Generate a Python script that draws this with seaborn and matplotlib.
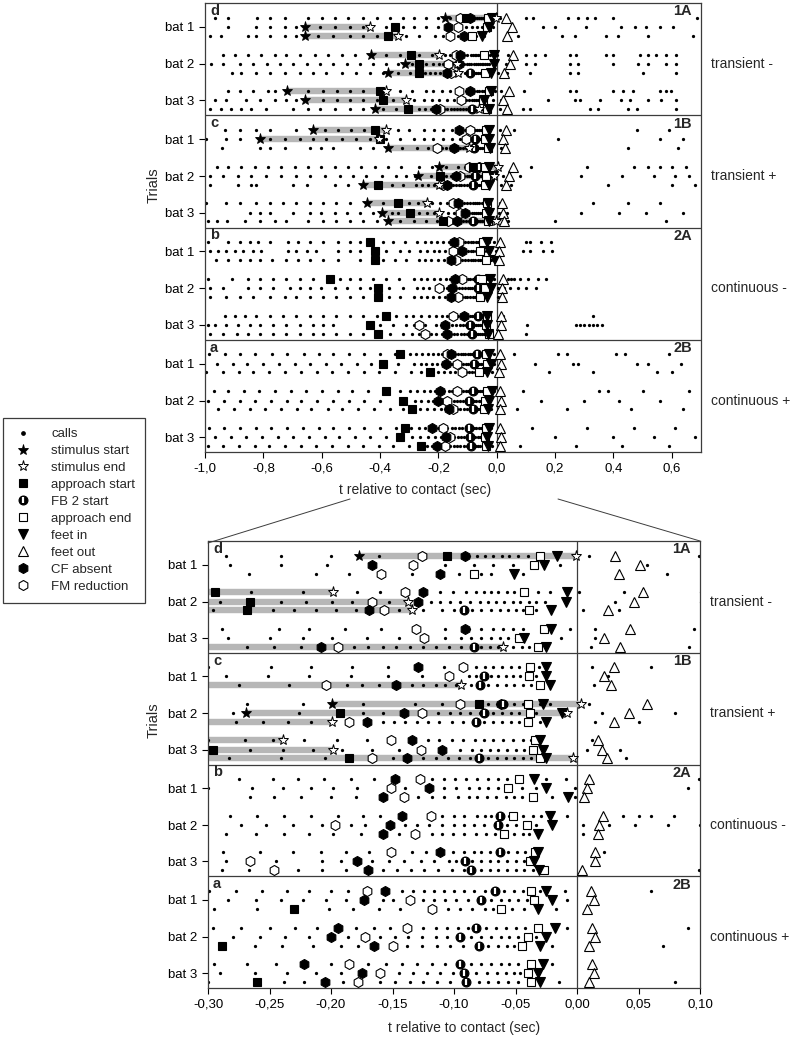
import numpy as np
import pandas as pd
import matplotlib
matplotlib.use('Agg')
import matplotlib.pyplot as plt
from matplotlib.lines import Line2D
from matplotlib.ticker import FuncFormatter, FixedLocator
from matplotlib.transforms import blended_transform_factory
import seaborn as sns

# ---------------- data (times in ms relative to contact) ----------------
GROUP_LETTERS = ['d', 'c', 'b', 'a']
GROUP_CODES = ['1A', '1B', '2A', '2B']
GROUP_NAMES = ['transient -', 'transient +', 'continuous -', 'continuous +']
BAT_LABELS = ['bat 1', 'bat 2', 'bat 3']
TOP_XTICKS = [-1.0, -0.8, -0.6, -0.4, -0.2, 0.0, 0.2, 0.4, 0.6]
BOTTOM_XTICKS = [-0.30, -0.25, -0.20, -0.15, -0.10, -0.05, 0.00, 0.05, 0.10]

# rows: group d,c,b,a ; bat 1..3 ; trial 1..3
STIM_START = [-177, -658, -658, -430, -315, -372, -718, -658, -418,
              -630, -812, -372, -199, -269, -458, -444, -395, -372,
              None, None, None, None, None, None, None, None, None,
              None, None, None, None, None, None, None, None, None]
STIM_END = [-1, -435, -338, -198, -137, -134, -378, -310, -60,
            -380, -405, -94, 3, -8, -199, -239, -198, -3,
            None, None, None, None, None, None, None, None, None,
            None, None, None, None, None, None, None, None, None]
APPROACH_START = [-106, -350, -372, -294, -266, -268, -401, -390, -304,
                  -418, -401, None, -80, -193, -407, -338, -296, -185,
                  -435, -418, -418, -572, -407, -407, -380, -435, -407,
                  -330, -390, -230, -380, -320, -289, -315, -330, -260]
FB2_START = [None, None, None, None, None, -92, None, None, -84,
             None, -76, -79, -60, -76, -82, None, None, -80,
             None, None, None, -63, -64, None, -63, -91, -86,
             -67, -78, None, -82, -95, -80, -95, -92, -90]
APPROACH_END = [-30, -35, -84, -43, None, -39, -27, -47, -32,
                -38, -39, -30, -40, -38, -40, -34, -36, -30,
                -47, -56, -36, -52, -41, -59, -34, -38, -27,
                -37, -35, -62, -32, -40, -45, -37, -40, -37]
FEET_IN = [-16, -27, -51, -8, -9, -21, -21, -43, -25,
           -25, -25, -22, -28, -12, -25, -30, -28, -25,
           -35, -25, -7, -22, -20, -32, -32, -35, -31,
           -25, -20, -32, -18, -25, -30, -28, -32, -30]
FEET_OUT = [31, 51, 34, 54, 46, 25, 43, 22, 35,
            30, 22, 28, 57, 42, 30, 17, 20, 24,
            10, 8, 6, 21, 18, 17, 15, 15, 4,
            11, 14, 8, 12, 15, 10, 12, 14, 10]
CF_ABSENT = [-91, -167, -111, -125, -129, -169, -91, None, -208,
             -129, None, -147, -62, -141, -171, -134, -110, -138,
             -148, -120, -158, -142, -152, -158, -111, -179, -170,
             -156, -173, None, -194, -200, -165, -222, -175, -205]
FM_REDUCTION = [-126, -133, -159, -140, -167, -157, -131, -124, -194,
                -93, -104, -204, -95, -126, -185, -151, -127, -167,
                -128, -151, -141, -119, -197, -132, -151, -266, -246,
                -171, -136, -118, -138, -172, -150, -185, -160, -178]

CALLS = [
    # group d
    [-966, -922, -822, -778, -727, -648, -600, -555, -511, -459, -411, -367, -322, -285, -241, -200, -161,
     -88, -81, -75, -68, -61, -55, -48, -40, 10, 99, 123, 243, 278, 308, 336, 398, 685],
    [-921, -824, -778, -727, -687, -607, -555, -504, -458, -378, -320, -282, -241, -203, -107, -84, -68, -52,
     -14, 57, 159, 199, 307, 427, 473, 513, 559, 604],
    [-984, -944, -852, -824, -778, -727, -687, -612, -561, -504, -458, -412, -310, -267, -212, -185, -134, -96,
     -78, -70, -44, 73, 222, 267, 376, 416, 518, 673],
    [-938, -898, -852, -807, -761, -721, -675, -624, -578, -532, -487, -378, -332, -265, -223, -179, -160, -111,
     -101, -90, -82, -76, -70, -64, -57, -51, -32, -22, 2, 38, 101, 130, 164, 250, 273, 376, 399, 490, 518, 547,
     581, 616],
    [-978, -938, -880, -835, -789, -743, -698, -652, -607, -561, -515, -470, -424, -378, -340, -290, -241, -220,
     -199, -183, -153, -119, -111, -103, -95, -87, -79, -72, -66, -59, -52, -46, -39, -33, -26, 31, 101, 130, 250,
     279, 399, 484, 518, 581, 616],
    [-909, -875, -824, -778, -727, -675, -630, -584, -532, -481, -435, -390, -340, -296, -247, -230, -212, -196,
     -180, -145, -125, -110, -100, -85, -78, -70, -63, -56, -50, -44, -33, 5, 34, 113, 250, 279, 502, 616],
    [-921, -881, -835, -784, -761, -647, -595, -549, -504, -458, -332, -289, -242, -218, -189, -159, -107, -88,
     -78, -68, -60, -52, -44, -6, 15, 95, 250, 273, 399, 433, 467, 558, 581, 598],
    [-967, -927, -858, -812, -761, -721, -687, -595, -549, -504, -458, -412, -355, -284, -250, -223, -199, -171,
     -145, -107, -94, -86, -78, -70, -63, -56, -50, -13, 15, 175, 267, 284, 353, 427, 456, 518, 564, 616],
    [-984, -944, -910, -875, -841, -790, -698, -647, -607, -555, -504, -458, -390, -346, -268, -246, -224, -181,
     -170, -158, -147, -136, -125, -115, -104, -94, -78, -71, -64, -52, -45, -39, 11, 91, 113, 319, 347, 450, 479,
     616],
    # group c
    [-932, -881, -824, -778, -687, -590, -545, -500, -455, -338, -300, -249, -216, -183, -154, -108, -82, -75,
     -68, -61, -54, -47, -31, 12, 60, 480, 590],
    [-995, -927, -881, -778, -727, -675, -630, -584, -532, -481, -435, -378, -332, -285, -251, -218, -184, -154,
     -126, -88, -82, -70, -64, -58, -52, -46, -33, 25, 210, 560, 640],
    [-942, -812, -778, -727, -641, -601, -561, -470, -424, -325, -275, -234, -187, -175, -161, -134, -125, -115,
     -107, -98, -86, -72, -65, -58, -51, -44, -37, 14, 450, 620],
    [-960, -920, -875, -829, -784, -738, -692, -647, -601, -555, -510, -464, -418, -372, -327, -268, -223, -174,
     -132, -110, -72, -65, -58, -51, -44, -37, -30, -22, 10, 119, 310, 470, 520, 560, 600, 650],
    [-984, -938, -887, -841, -790, -738, -687, -641, -590, -538, -492, -447, -395, -344, -310, -280, -226, -174,
     -158, -113, -103, -95, -87, -79, -68, -61, -54, -47, -40, -33, 20, 80, 290, 430, 540, 610, 660],
    [-984, -887, -841, -824, -698, -652, -555, -510, -410, -360, -320, -277, -255, -235, -216, -158, -149, -140,
     -130, -121, -112, -102, -93, -84, -76, -68, -61, -54, -47, -40, -30, 15, 50, 380, 600, 680],
    [-995, -927, -881, -824, -778, -732, -687, -641, -595, -550, -504, -390, -300, -270, -247, -222, -195, -171,
     -121, -112, -102, -93, -83, -76, -68, -60, -52, -44, -37, 12, 330, 450, 560],
    [-847, -812, -778, -698, -641, -601, -555, -515, -470, -424, -360, -340, -266, -239, -215, -191, -167, -145,
     -95, -85, -78, -71, -64, -57, -50, -43, -36, 8, 35, 290, 420, 510, 640],
    [-989, -960, -926, -864, -812, -761, -721, -647, -595, -550, -504, -458, -412, -330, -283, -241, -205, -150,
     -125, -115, -105, -96, -87, -72, -65, -58, -51, -44, -37, 40, 200, 580],
    # group b
    [-989, -921, -881, -847, -818, -778, -715, -681, -641, -595, -544, -504, -470, -390, -355, -315, -275, -247,
     -227, -206, -184, -165, -118, -108, -99, -90, -81, -72, -64, -57, -50, -25, -9, 99, 113, 150, 185],
    [-984, -955, -927, -898, -870, -835, -807, -715, -687, -652, -618, -544, -504, -470, -380, -330, -300, -264,
     -239, -216, -198, -179, -140, -108, -98, -88, -80, -72, -64, -57, -45, -33, -2, 90, 113, 160, 190],
    [-961, -921, -881, -847, -812, -772, -721, -681, -641, -595, -544, -470, -390, -350, -310, -266, -246, -224,
     -200, -180, -129, -118, -108, -97, -88, -81, -73, -66, -58, -51, -45, -20, -2],
    [-989, -909, -852, -812, -767, -721, -675, -630, -538, -504, -470, -424, -380, -335, -282, -260, -238, -216,
     -194, -174, -160, -110, -100, -92, -81, -75, -70, -55, -44, -36, -29, -8, 37, 50, 60, 79, 107, 140, 170],
    [-984, -938, -852, -812, -767, -710, -675, -641, -601, -555, -515, -470, -435, -370, -320, -273, -253, -231,
     -207, -184, -172, -140, -130, -120, -110, -100, -92, -84, -76, -57, -50, -33, 5, 26, 47, 74, 100, 135],
    [-984, -927, -881, -835, -778, -727, -687, -641, -595, -550, -504, -460, -370, -330, -285, -261, -238, -218,
     -198, -176, -145, -118, -110, -101, -92, -82, -74, -67, -51, -44, -39, 5],
    [-932, -898, -864, -824, -778, -732, -687, -641, -595, -550, -504, -458, -412, -345, -310, -288, -258, -231,
     -208, -188, -169, -134, -123, -101, -92, -84, -78, -71, -56, -49, -42, -36, 22, 330],
    [-989, -967, -927, -887, -847, -812, -767, -721, -675, -630, -595, -561, -400, -355, -310, -285, -245, -207,
     -192, -167, -153, -141, -127, -116, -104, -98, -85, -78, -71, -64, -57, -50, -43, 102, 270, 285, 300, 315,
     330, 345, 360],
    [-984, -938, -892, -852, -812, -767, -721, -675, -630, -595, -550, -504, -460, -365, -320, -289, -267, -227,
     -207, -188, -158, -146, -135, -124, -113, -102, -92, -78, -71, -64, -57, -50, -43, -36, 99],
    # group a
    [-985, -930, -880, -830, -770, -720, -660, -610, -560, -505, -455, -400, -350, -299, -277, -256, -236, -218,
     -200, -186, -142, -133, -124, -116, -108, -100, -92, -84, -75, -59, -51, -44, -30, -10, 60, 210, 240, 410,
     440, 590],
    [-960, -905, -855, -800, -745, -690, -640, -585, -535, -480, -430, -340, -284, -261, -241, -223, -204, -188,
     -158, -150, -125, -116, -107, -98, -89, -70, -62, -55, -48, -41, -8, 130, 260, 280, 480, 520, 630],
    [-995, -940, -885, -835, -780, -725, -670, -615, -565, -510, -455, -405, -350, -295, -260, -202, -182, -161,
     -144, -105, -95, -85, -75, -68, -53, -43, -17, 180, 330, 550, 600],
    [-970, -920, -865, -815, -760, -705, -655, -600, -545, -495, -440, -330, -296, -273, -250, -229, -211, -180,
     -165, -152, -125, -115, -106, -97, -89, -74, -66, -58, -50, -42, -8, 90, 350, 380, 500, 660],
    [-990, -935, -880, -830, -775, -720, -670, -615, -560, -505, -455, -400, -280, -258, -237, -218, -186, -160,
     -148, -137, -126, -115, -106, -86, -78, -70, -62, -55, -48, -33, 150, 300, 420, 560],
    [-955, -900, -845, -795, -740, -685, -635, -580, -530, -475, -420, -365, -320, -262, -240, -215, -192, -178,
     -138, -126, -114, -103, -93, -72, -64, -57, -51, -20, 70, 240, 460, 640],
    [-985, -935, -880, -825, -775, -720, -665, -610, -560, -505, -455, -400, -345, -295, -268, -245, -200, -170,
     -155, -142, -130, -118, -107, -86, -78, -70, -62, -55, -48, -20, 120, 310, 470, 610],
    [-965, -910, -860, -805, -750, -700, -645, -590, -540, -485, -435, -380, -290, -262, -236, -212, -192, -145,
     -133, -122, -111, -101, -82, -73, -65, -58, -51, -46, 200, 400, 540, 680],
    [-990, -940, -885, -830, -780, -725, -670, -620, -565, -510, -460, -405, -355, -300, -238, -222, -190, -160,
     -148, -136, -125, -114, -103, -80, -72, -64, -56, -48, -15, 80, 270, 430, 590],
]

# ---------------- layout helpers ----------------
BAT_CENTER = [2.55, 6.5, 10.4]
TRIAL_OFF = [-0.98, 0.0, 0.95]
GROUP_H = 12.0


def row_y(i):
    g, b, t = i // 9, (i % 9) // 3, i % 3
    return GROUP_H * g + BAT_CENTER[b] + TRIAL_OFF[t]


rows_y = [row_y(i) for i in range(36)]

calls_df = pd.DataFrame(
    [(t / 1000.0, rows_y[i]) for i, lst in enumerate(CALLS) for t in lst],
    columns=['t', 'y'])

sns.set_style('ticks')
plt.rcParams['font.family'] = ['Liberation Sans', 'DejaVu Sans']
plt.rcParams['axes.linewidth'] = 0.9

W, H = 794, 1052
fig = plt.figure(figsize=(W / 100, H / 100), dpi=100)


def fax(l, t, r, b):
    return fig.add_axes([l / W, 1 - b / H, (r - l) / W, (b - t) / H])


ax_top = fax(205, 3, 701, 452)
ax_bot = fax(208, 541, 700, 988)

GREY = '#b7b7b7'
FS = 9.5

STYLE = {
    'fm': dict(marker='h', ms=7.2, mfc='white', mec='black', mew=0.8),
    'cf': dict(marker='h', ms=7.2, mfc='black', mec='black', mew=0.8),
    'as': dict(marker='s', ms=6.0, mfc='black', mec='black', mew=0.8),
    'ae': dict(marker='s', ms=6.0, mfc='white', mec='black', mew=0.8),
    'fi': dict(marker='v', ms=7.0, mfc='black', mec='black', mew=0.8),
    'fo': dict(marker='^', ms=7.2, mfc='white', mec='black', mew=0.8),
    'ss': dict(marker='*', ms=8.0, mfc='black', mec='black', mew=0.6),
    'se': dict(marker='*', ms=8.0, mfc='white', mec='black', mew=0.7),
    'fb': dict(marker='o', ms=6.4, mfc='black', mec='black', mew=0.8),
    'fb2': dict(marker='|', ms=4.6, mec='white', mew=1.6),
}


def plot_events(ax, vals, key, z):
    pts = [(v / 1000.0, rows_y[i]) for i, v in enumerate(vals) if v is not None]
    if not pts:
        return
    xs, ys = zip(*pts)
    ax.plot(xs, ys, linestyle='none', zorder=z, clip_on=True, **STYLE[key])


def draw_panel(ax, xlim, xticks, ndec):
    # stimulus grey bars
    for i in range(36):
        s, e = STIM_START[i], STIM_END[i]
        if s is None:
            continue
        if e is None:
            e = FEET_IN[i]
        ax.hlines(rows_y[i], s / 1000.0, e / 1000.0, color=GREY, lw=4.6, zorder=1)
    # calls
    sns.scatterplot(data=calls_df, x='t', y='y', ax=ax, s=5.5, color='black',
                    linewidth=0, legend=False, zorder=2)
    plot_events(ax, FM_REDUCTION, 'fm', 4)
    plot_events(ax, CF_ABSENT, 'cf', 4)
    plot_events(ax, APPROACH_START, 'as', 5)
    plot_events(ax, FB2_START, 'fb', 5)
    plot_events(ax, FB2_START, 'fb2', 5.1)
    plot_events(ax, APPROACH_END, 'ae', 5)
    plot_events(ax, FEET_IN, 'fi', 6)
    plot_events(ax, STIM_START, 'ss', 6)
    plot_events(ax, STIM_END, 'se', 6)
    plot_events(ax, FEET_OUT, 'fo', 6)

    ax.axvline(0, color='#3c3c3c', lw=0.9, zorder=0.5)
    for g in range(1, 4):
        ax.axhline(GROUP_H * g, color='#3c3c3c', lw=0.9, zorder=0.5)

    ax.set_xlim(*xlim)
    ax.set_ylim(4 * GROUP_H, 0)
    ax.xaxis.set_major_locator(FixedLocator(xticks))

    def fmt(v, pos):
        if abs(v) < 1e-9:
            v = 0.0
        return f'{v:.{ndec}f}'.replace('.', ',')

    ax.xaxis.set_major_formatter(FuncFormatter(fmt))
    yt = [GROUP_H * g + BAT_CENTER[b] for g in range(4) for b in range(3)]
    ax.set_yticks(yt)
    ax.set_yticklabels(BAT_LABELS * 4)
    ax.tick_params(axis='both', direction='out', length=4.5, width=0.8,
                   labelsize=FS, colors='black', pad=3)
    ax.set_xlabel('')
    ax.set_ylabel('')
    for sp in ax.spines.values():
        sp.set_visible(True)
        sp.set_color('#3c3c3c')

    tr = blended_transform_factory(ax.transAxes, ax.transData)
    for g in range(4):
        ax.text(0.01, GROUP_H * g + 0.85, GROUP_LETTERS[g], transform=tr,
                fontsize=10.5, fontweight='bold', ha='left', va='center', zorder=8)
        ax.text(0.982, GROUP_H * g + 0.9, GROUP_CODES[g], transform=tr,
                fontsize=10.5, fontweight='bold', ha='right', va='center', zorder=8)
        ax.text(1.02, GROUP_H * g + BAT_CENTER[1], GROUP_NAMES[g], transform=tr,
                fontsize=FS + 0.5, ha='left', va='center', clip_on=False)


draw_panel(ax_top, (-1.0, 0.7), TOP_XTICKS, 1)
draw_panel(ax_bot, (-0.30, 0.10), BOTTOM_XTICKS, 2)

# axis titles
fig.text(415 / W, 1 - 490 / H, 't relative to contact (sec)', ha='center', va='center', fontsize=FS + 0.5)
fig.text(464 / W, 1 - 1028 / H, 't relative to contact (sec)', ha='center', va='center', fontsize=FS + 0.5)
fig.text(154 / W, 1 - 185 / H, 'Trials', rotation=90, ha='center', va='center', fontsize=FS + 1)
fig.text(154 / W, 1 - 720 / H, 'Trials', rotation=90, ha='center', va='center', fontsize=FS + 1)

# zoom connector lines
fig.add_artist(Line2D([350 / W, 208 / W], [1 - 499 / H, 1 - 543 / H],
                      transform=fig.transFigure, color='#3c3c3c', lw=0.7))
fig.add_artist(Line2D([558 / W, 700 / W], [1 - 499 / H, 1 - 541 / H],
                      transform=fig.transFigure, color='#3c3c3c', lw=0.7))

# legend
def h(key):
    return Line2D([], [], linestyle='none', **STYLE[key])

handles = [Line2D([], [], linestyle='none', marker='o', ms=2.4, mfc='black', mec='black'),
           h('ss'), h('se'), h('as'), (h('fb'), h('fb2')), h('ae'), h('fi'), h('fo'), h('cf'), h('fm')]
labels = ['calls', 'stimulus start', 'stimulus end', 'approach start', 'FB 2 start',
          'approach end', 'feet in', 'feet out', 'CF absent', 'FM reduction']
leg = fig.legend(handles, labels, loc='upper left', bbox_to_anchor=(3 / W, 1 - 418 / H),
                 frameon=True, fancybox=False, edgecolor='#3c3c3c', framealpha=1,
                 fontsize=FS, handlelength=1.6, handletextpad=1.3, borderpad=0.75,
                 labelspacing=0.36, borderaxespad=0)
leg.get_frame().set_linewidth(0.9)

fig.savefig('out.png', dpi=100)
